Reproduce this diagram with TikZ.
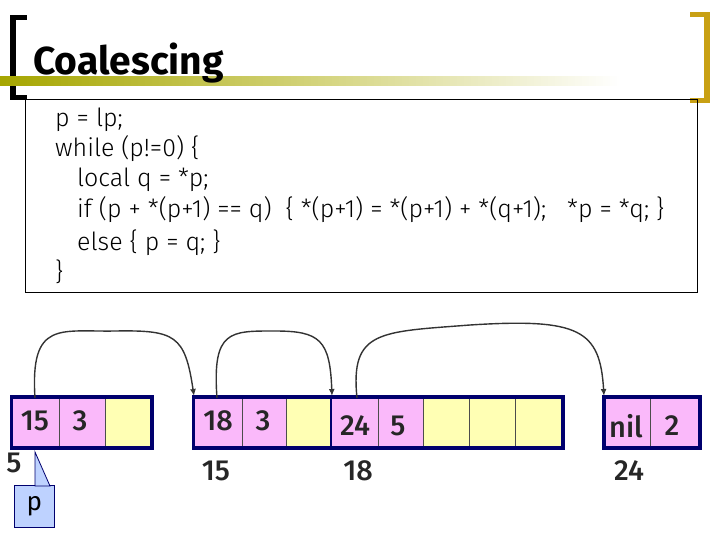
\documentclass[tikz,border=0pt]{standalone}
\usepackage{fontspec}
\setmainfont{Fira Sans}
\newfontfamily\codefont{Fira Sans Light}
\newfontfamily\cellfont{Fira Sans Medium}
\usetikzlibrary{arrows.meta}
\definecolor{navy}{RGB}{0,0,110}
\definecolor{gold}{RGB}{200,160,20}
\definecolor{pinkcell}{RGB}{250,185,250}
\definecolor{yelcell}{RGB}{255,255,180}
\definecolor{callout}{RGB}{190,210,255}
\begin{document}
\begin{tikzpicture}[x=1pt,y=-1pt,
  pinkc/.style={draw=black!70,fill=pinkcell,line width=0.6pt},
  yelc/.style={draw=black!70,fill=yelcell,line width=0.6pt},
  blk/.style={draw=navy,line width=3.5pt},
  ctext/.style={font=\cellfont\fontsize{29}{29}\selectfont, text=black!85},
  lbl/.style={font=\cellfont\fontsize{29}{29}\selectfont, text=black!85},
  codel/.style={anchor=base west,font=\codefont\fontsize{25}{25}\selectfont},
  arr/.style={draw=black!80,line width=1.4pt,-{Latex[length=7pt,width=6pt]}}]
\useasboundingbox (0,0) rectangle (720,540);
% brackets
\fill[black] (10,15) rectangle (16,100);
\fill[black] (10,15) rectangle (27,20);
\fill[black] (10,95) rectangle (27,100);
\fill[gold] (704,12) rectangle (710,103);
\fill[gold] (690,12) rectangle (710,17);
\fill[gold] (690,98) rectangle (710,103);
% title bar
\shade[left color=olive!70!white, right color=white] (0,77) rectangle (620,86);
\node[anchor=base west,inner sep=0pt,font=\bfseries\fontsize{39}{39}\selectfont] (title) at (33,75) {Coalescing};
% code box
\node[draw=black,line width=0.8pt,minimum width=672pt,minimum height=193pt,anchor=north west,inner sep=0pt] (codebox) at (25,99) {};
\node[codel,inner sep=0pt] (c1) at (55,127) {p = lp;};
\node[codel,inner sep=0pt] (c2) at (55,157) {while (p!=0) \{};
\node[codel,inner sep=0pt] (c3) at (77,187) {local q = *p;};
\node[codel,inner sep=0pt] (c4) at (77,218) {if (p + *(p+1) == q)\ \ \{ *(p+1) = *(p+1) + *(q+1);\ \ \ *p = *q; \}};
\node[codel,inner sep=0pt] (c5) at (77,250) {else \{ p = q; \}};
\node[codel,inner sep=0pt] (c6) at (55,280) {\}};
% block 1
\draw[pinkc] (11.5,397) rectangle (59,448);
\draw[pinkc] (59,397) rectangle (105,448);
\draw[yelc] (105,397) rectangle (152,448);
\draw[blk] (11.5,397) rectangle (152,448);
\node[ctext] (b1a) at (35,421) {15};
\node[ctext] (b1b) at (80,421) {3};
% block 2
\draw[pinkc] (193.5,397) rectangle (242,448);
\draw[pinkc] (242,397) rectangle (286,448);
\draw[yelc] (286,397) rectangle (331,448);
\draw[pinkc] (331,397) rectangle (378,448);
\draw[pinkc] (378,397) rectangle (423,448);
\draw[yelc] (423,397) rectangle (469,448);
\draw[yelc] (469,397) rectangle (515,448);
\draw[yelc] (515,397) rectangle (563,448);
\draw[blk] (193.5,397) rectangle (563,448);
\draw[blk,line width=2pt] (331,397) -- (331,448);
\node[ctext] (b2a) at (218,421) {18};
\node[ctext] (b2b) at (263,421) {3};
\node[ctext] (b3a) at (355,426) {24};
\node[ctext] (b3b) at (398,426) {5};
% block 3
\draw[pinkc] (604,397) rectangle (650,448);
\draw[pinkc] (650,397) rectangle (700,448);
\draw[blk] (604,397) rectangle (700,448);
\node[ctext] (b4a) at (626,426) {nil};
\node[ctext] (b4b) at (672,426) {2};
% labels
\node[lbl] (l5) at (14,463) {5};
\node[lbl] (l15) at (216,471) {15};
\node[lbl] (l18) at (358,471) {18};
\node[lbl] (l24) at (629,471) {24};
% callout p
\node[draw=navy,line width=0.8pt,fill=callout,minimum width=40pt,minimum height=42pt,inner sep=0pt,anchor=north west,font=\fontsize{26}{26}\selectfont] (p) at (14,485) {p};
\coordinate (tip) at (35,452);
\draw[navy,line width=0.8pt,fill=callout] (tip) -- (35,486) -- (50,486) -- cycle;
% arrows
\coordinate (s1) at (35,398); \coordinate (e1) at (194,396);
\coordinate (s2) at (217,398); \coordinate (e2) at (332,396);
\coordinate (s3) at (357,398); \coordinate (e3) at (604,396);
\draw[arr] (s1) .. controls (30,320) and (60,332) .. (115,331) .. controls (175,330) and (185,335) .. (e1);
\draw[arr] (s2) .. controls (212,330) and (230,331) .. (275,331) .. controls (320,331) and (330,340) .. (e2);
\draw[arr] (s3) .. controls (350,330) and (380,332) .. (470,325) .. controls (580,318) and (600,330) .. (e3);
\end{tikzpicture}
\end{document}
